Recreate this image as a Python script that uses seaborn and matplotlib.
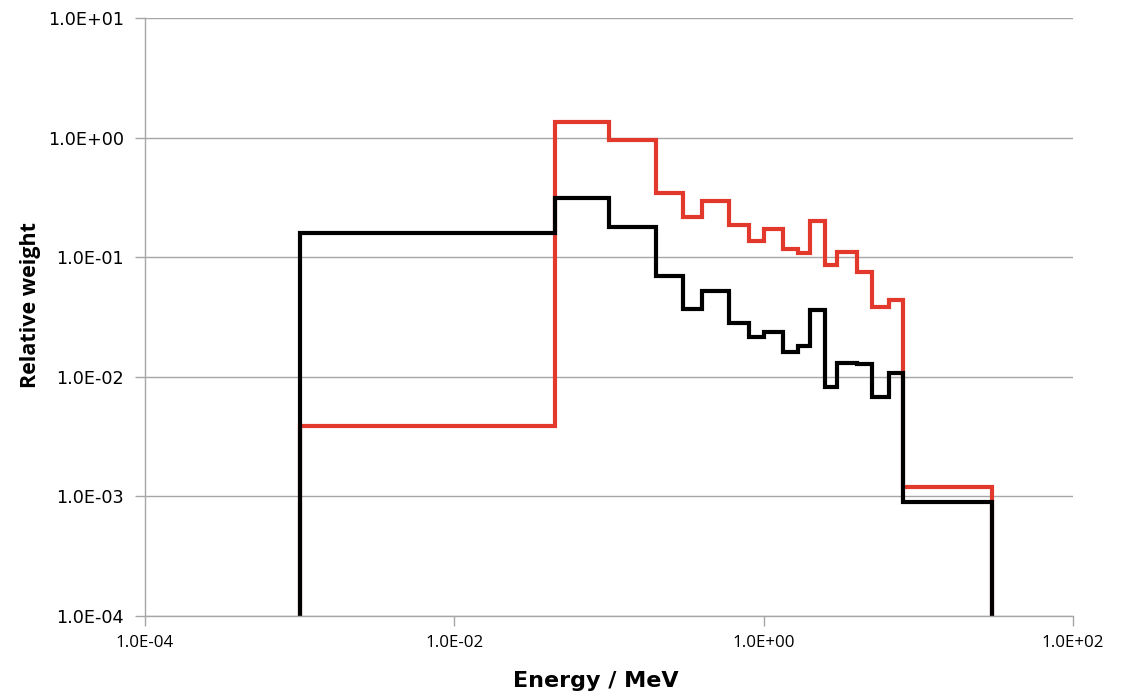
import numpy as np
import pandas as pd
import matplotlib
matplotlib.use("Agg")
import matplotlib.pyplot as plt
import seaborn as sns
from matplotlib.ticker import FuncFormatter, NullLocator

# Energy group boundaries (MeV)
edges = [0.001, 0.045, 0.1, 0.2, 0.3, 0.4, 0.6, 0.8, 1.0, 1.33, 1.66,
         2.0, 2.5, 3.0, 4.0, 5.0, 6.5, 8.0, 30.0]

# Relative weight per energy group
red_weights = [0.00388, 1.35, 0.955, 0.344, 0.217, 0.295, 0.186, 0.137,
               0.172, 0.117, 0.108, 0.201, 0.086, 0.110, 0.0752, 0.0384,
               0.0439, 0.0012]
black_weights = [0.159, 0.313, 0.179, 0.0697, 0.0369, 0.0521, 0.0282,
                 0.0215, 0.0237, 0.0161, 0.0181, 0.0362, 0.0082, 0.0130,
                 0.0128, 0.00678, 0.0108, 0.000897]

series_names = ["red", "black"]
series_colors = {"red": "#E3392C", "black": "#000000"}

x_ticks = [1e-4, 1e-2, 1e0, 1e2]
y_ticks = [1e-4, 1e-3, 1e-2, 1e-1, 1e0, 1e1]
floor = 1e-4


def step_frame(name, weights):
    # histogram outline: rise from the floor at the first edge, drop at the last
    xs = [edges[0]] + list(edges)
    ys = [floor] + list(weights) + [floor]
    return pd.DataFrame({"energy": xs, "weight": ys, "series": name,
                         "order": np.arange(len(xs))})


df = pd.concat([step_frame("red", red_weights),
                step_frame("black", black_weights)], ignore_index=True)

sns.set_theme(style="white")
plt.rcParams["font.family"] = ["Open Sans", "DejaVu Sans"]

fig = plt.figure(figsize=(11.24, 6.97), dpi=100)
ax = fig.add_axes([145 / 1124, 1 - 616 / 697, (1073 - 145) / 1124, (616 - 18) / 697])

sns.lineplot(data=df, x="energy", y="weight", hue="series",
             hue_order=series_names, palette=series_colors,
             estimator=None, sort=False, units="series",
             drawstyle="steps-post", linewidth=3.0, legend=False, ax=ax,
             solid_joinstyle="miter")

ax.set_xscale("log")
ax.set_yscale("log")
ax.set_xlim(1e-4, 1e2)
ax.set_ylim(1e-4, 1e1)

ax.set_xticks(x_ticks)
ax.set_yticks(y_ticks)
ax.xaxis.set_minor_locator(NullLocator())
ax.yaxis.set_minor_locator(NullLocator())

fmt = FuncFormatter(lambda v, _: f"{v:.1E}")
ax.xaxis.set_major_formatter(fmt)
ax.yaxis.set_major_formatter(fmt)

grid_color = "#A6A6A6"
ax.yaxis.grid(True, color=grid_color, linewidth=1.0)
ax.xaxis.grid(False)
ax.set_axisbelow(True)

for side in ["top", "right"]:
    ax.spines[side].set_visible(False)
for side in ["left", "bottom"]:
    ax.spines[side].set_color(grid_color)
    ax.spines[side].set_linewidth(1.0)

ax.tick_params(axis="both", which="major", direction="out", length=7,
               width=1.0, color=grid_color, labelcolor="#000000",
               left=True, bottom=True)
ax.tick_params(axis="x", pad=7)
ax.tick_params(axis="y", pad=8)

for lab in ax.get_xticklabels():
    lab.set_fontfamily(["Open Sans", "DejaVu Sans"])
    lab.set_fontsize(12.2)
for lab in ax.get_yticklabels():
    lab.set_fontfamily(["DejaVu Sans"])
    lab.set_fontsize(12.7)

ax.set_xlabel("Energy / MeV", fontsize=16, fontweight="bold",
              family=["DejaVu Sans"], color="black")
ax.set_ylabel("Relative weight", fontsize=15.5, fontweight="bold",
              color="black")
ax.xaxis.set_label_coords(0.486, -0.092)
ax.yaxis.set_label_coords(-0.112, 0.52)

fig.savefig("out.png", dpi=100, facecolor="white")
